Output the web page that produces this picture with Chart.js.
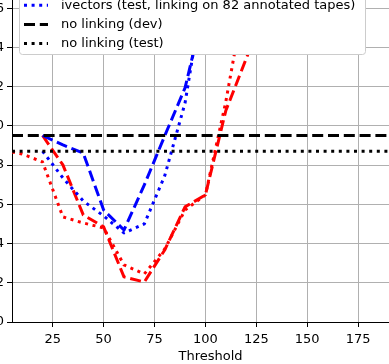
<!DOCTYPE html>
<html>
<head>
<meta charset="utf-8">
<script src="https://cdn.jsdelivr.net/npm/chart.js@4/dist/chart.umd.min.js"></script>
<style>
html, body { margin: 0; padding: 0; background: #fff; }
body { width: 389px; height: 364px; overflow: hidden; position: relative; }
/* the picture is a crop of a bigger figure, so the canvas hangs over the edges */
#wrap { position: absolute; left: -60px; top: -60px; }
</style>
</head>
<body>
<div id="wrap"><canvas id="grafica" width="480" height="424"></canvas></div>
<script>
const thresholds = [5, 10, 20, 30, 40, 50, 60, 70, 80, 90, 100, 110, 120, 130];
const ivecDev    = [null, null, 0.1951, 0.1903, 0.1861, 0.1571, 0.1469, 0.1699, 0.1949, 0.2194, 0.263, null, null, null];
const ivecTest   = [null, null, 0.1871, 0.1735, 0.1617, 0.1541, 0.1454, 0.1500, 0.1745, 0.2117, 0.275, null, null, null];
const redDev     = [null, null, 0.1951, 0.1801, 0.1546, 0.1485, 0.1230, 0.1204, 0.1367, 0.1587, 0.1648, 0.2077, 0.2342, 0.26];
const redTest    = [0.1867, 0.1857, 0.1816, 0.1536, 0.1505, 0.1480, 0.1291, 0.1245, 0.1372, 0.1571, 0.1648, 0.2122, 0.27, null];
const noLinkDev  = 0.1951;
const noLinkTest = 0.1871;

const xTicks = [25, 50, 75, 100, 125, 150, 175];
const yTicks = [0.10, 0.12, 0.14, 0.16, 0.18, 0.20, 0.22, 0.24, 0.26, 0.28];
const X_MIN = 5, X_MAX = 200;
const Y_MIN = 0.10, Y_MAX = 0.28;

const FONT = 'DejaVu Sans';
const DASH = [11, 4.8];
const DOT = [3, 4.6];

const points = arr => thresholds.map((x, i) => ({x: x, y: arr[i]}));
const flat = v => [{x: X_MIN, y: v}, {x: X_MAX, y: v}];

const line = (label, data, color, dash) => ({
    label: label,
    data: data,
    borderColor: color,
    borderWidth: 3,
    borderDash: dash,
    borderCapStyle: 'butt',
    borderJoinStyle: 'round',
    pointRadius: 0,
    tension: 0,
    fill: false,
});

// first dataset is drawn on top
const datasets = [
    line('no linking (test)', flat(noLinkTest), '#000000', DOT),
    line('no linking (dev)', flat(noLinkDev), '#000000', DASH),
    line('ivectors (test, linking on 82 annotated tapes)', points(ivecTest), '#0000ff', DOT),
    line('ivectors (dev)', points(ivecDev), '#0000ff', DASH),
    line('', points(redTest), '#ff0000', DOT),
    line('', points(redDev), '#ff0000', DASH),
];
const legendOrder = [3, 2, 1, 0];

// matplotlib style legend inside the axes
const legendBox = {
    id: 'legendBox',
    afterDatasetsDraw(chart) {
        const {ctx, chartArea} = chart;
        const items = legendOrder.map(i => chart.data.datasets[i]);
        const rowH = 19.2, padY = 10;
        const left = chartArea.left + 7;
        const top = chartArea.top + 7;
        ctx.save();
        ctx.font = '13px "' + FONT + '"';
        const textW = Math.max(...items.map(d => ctx.measureText(d.label).width));
        const w = 42 + textW + 10;
        const h = padY * 2 + rowH * (items.length - 1);
        ctx.beginPath();
        ctx.roundRect(Math.round(left) + 0.5, Math.round(top) + 0.5, Math.round(w), Math.round(h), 3);
        ctx.fillStyle = '#ffffff';
        ctx.fill();
        ctx.strokeStyle = '#cccccc';
        ctx.lineWidth = 1;
        ctx.stroke();
        items.forEach((d, i) => {
            const cy = top + padY + rowH * i;
            ctx.beginPath();
            ctx.setLineDash(d.borderDash);
            ctx.lineCap = 'butt';
            ctx.lineWidth = d.borderWidth;
            ctx.strokeStyle = d.borderColor;
            ctx.moveTo(left + 5, cy);
            ctx.lineTo(left + 29, cy);
            ctx.stroke();
            ctx.setLineDash([]);
            ctx.fillStyle = '#000000';
            ctx.textBaseline = 'middle';
            ctx.textAlign = 'left';
            ctx.fillText(d.label, left + 42, cy);
        });
        ctx.restore();
    }
};

const graph = document.querySelector('#grafica');

const config = {
    type: 'line',
    data: { datasets: datasets },
    options: {
        responsive: false,
        animation: false,
        layout: { padding: { left: 0, right: 11, top: 29, bottom: 0 } },
        plugins: { legend: { display: false }, tooltip: { enabled: false } },
        scales: {
            x: {
                type: 'linear',
                min: X_MIN,
                max: X_MAX,
                afterBuildTicks: s => { s.ticks = xTicks.map(v => ({value: v})); },
                afterFit: s => { s.height = 42; },
                grid: { color: '#b0b0b0', lineWidth: 1, tickLength: 5, tickColor: '#000000' },
                border: { color: '#000000', width: 1 },
                ticks: { color: '#000000', font: { family: FONT, size: 13 }, padding: 5, maxRotation: 0 },
                title: { display: true, text: 'Threshold', color: '#000000', font: { family: FONT, size: 13 }, padding: { top: 0, bottom: 0 } },
            },
            y: {
                min: Y_MIN,
                max: Y_MAX,
                afterBuildTicks: s => { s.ticks = yTicks.map(v => ({value: v})); },
                afterFit: s => { s.width = 72; },
                grid: { color: '#b0b0b0', lineWidth: 1, tickLength: 5, tickColor: '#000000' },
                border: { color: '#000000', width: 1 },
                ticks: { color: '#000000', font: { family: FONT, size: 13 }, padding: 3, callback: v => v.toFixed(2) },
            },
        },
    },
    plugins: [legendBox],
};

const myChart = new Chart(graph, config);
</script>
</body>
</html>
